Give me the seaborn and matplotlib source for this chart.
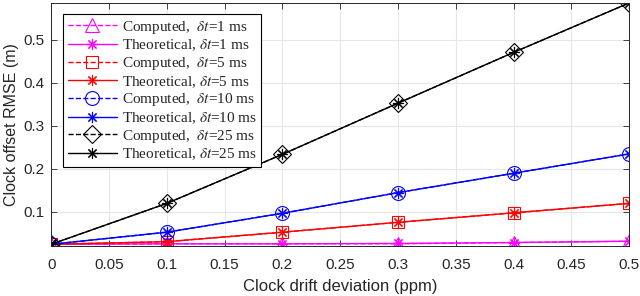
import numpy as np
import pandas as pd
import seaborn as sns
import matplotlib.pyplot as plt

# clock drift deviation (ppm)
drift = [0, 0.1, 0.2, 0.3, 0.4, 0.5]

# RMSE values (m)
comp_1 = [0.025, 0.026, 0.026, 0.026, 0.029, 0.032]
theo_1 = [0.025, 0.026, 0.026, 0.027, 0.029, 0.032]
comp_5 = [0.025, 0.031, 0.053, 0.076, 0.098, 0.120]
theo_5 = [0.025, 0.031, 0.053, 0.076, 0.098, 0.120]
comp_10 = [0.025, 0.053, 0.097, 0.145, 0.190, 0.235]
theo_10 = [0.025, 0.053, 0.097, 0.145, 0.190, 0.235]
comp_25 = [0.025, 0.120, 0.234, 0.353, 0.471, 0.586]
theo_25 = [0.025, 0.120, 0.234, 0.353, 0.471, 0.586]

ASTERISK = (8, 2, 0)

series = [
    ("Computed,  $\\delta t$=1 ms", comp_1, "#FF00FF", "--", "^"),
    ("Theoretical, $\\delta t$=1 ms", theo_1, "#FF00FF", "-", ASTERISK),
    ("Computed,  $\\delta t$=5 ms", comp_5, "#FF0000", "--", "s"),
    ("Theoretical, $\\delta t$=5 ms", theo_5, "#FF0000", "-", ASTERISK),
    ("Computed,  $\\delta t$=10 ms", comp_10, "#0000FF", "--", "o"),
    ("Theoretical, $\\delta t$=10 ms", theo_10, "#0000FF", "-", ASTERISK),
    ("Computed,  $\\delta t$=25 ms", comp_25, "black", "--", "D"),
    ("Theoretical, $\\delta t$=25 ms", theo_25, "black", "-", ASTERISK),
]

sns.set_style("ticks")
plt.rcParams["font.family"] = ["Liberation Sans", "DejaVu Sans"]
plt.rcParams["mathtext.fontset"] = "stix"

fig = plt.figure(figsize=(6.4, 2.96), dpi=100)
ax = fig.add_axes([0.08, 0.169, 0.903, 0.821])

for label, vals, col, ls, mk in series:
    df = pd.DataFrame({"x": drift, "y": vals})
    if mk == ASTERISK:
        msize = 8
    elif mk == "D":
        msize = 9
    elif mk == "s":
        msize = 8
    else:
        msize = 10
    sns.lineplot(data=df, x="x", y="y", ax=ax, color=col, linestyle=ls,
                 marker=mk, markersize=msize, markerfacecolor="none",
                 markeredgecolor=col, markeredgewidth=0.8, linewidth=1.0,
                 label=label)

ax.set_xlim(0, 0.5)
ax.set_ylim(0.021, 0.586)
ax.set_xticks(np.arange(0, 0.51, 0.05))
ax.set_xticklabels(["0", "0.05", "0.1", "0.15", "0.2", "0.25", "0.3", "0.35", "0.4", "0.45", "0.5"])
ax.set_yticks([0.1, 0.2, 0.3, 0.4, 0.5])
ax.set_yticklabels(["0.1", "0.2", "0.3", "0.4", "0.5"])
ax.tick_params(direction="in", length=4, labelsize=11, colors="#262626",
               top=True, right=True, width=0.6)
ax.tick_params(axis="x", pad=9)
ax.tick_params(axis="y", pad=5)
ax.grid(True, color="#E6E6E6", linewidth=0.8)
ax.set_axisbelow(True)
for s in ax.spines.values():
    s.set_color("#262626")
    s.set_linewidth(0.7)
ax.set_xlabel("Clock drift deviation (ppm)", fontsize=12, color="#262626", labelpad=5)
ax.set_ylabel("Clock offset RMSE (m)", fontsize=11.5, color="#262626", labelpad=3)

leg = ax.legend(loc="upper left", bbox_to_anchor=(0.008, 0.985),
                prop={"family": "Liberation Serif", "size": 11},
                handlelength=3.2, handletextpad=0.3, labelspacing=0.12,
                borderpad=0.3, fancybox=False, framealpha=1, edgecolor="black")
leg.get_frame().set_linewidth(0.8)

fig.savefig("out.png", dpi=100)
